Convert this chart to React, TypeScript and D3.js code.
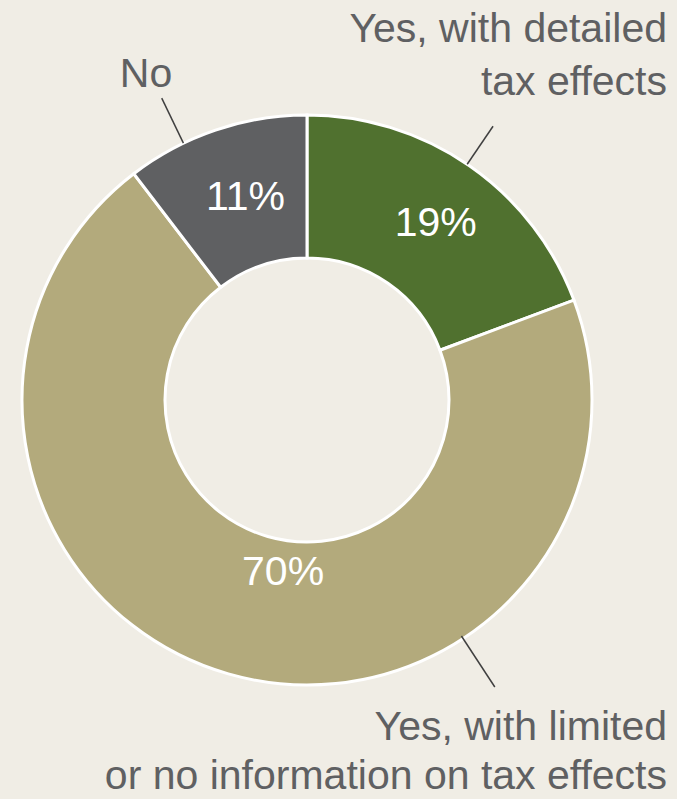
import React from "react";
import * as d3 from "d3";

const categories = ["Yes, with detailed tax effects", "Yes, with limited or no information on tax effects", "No"];
const values = [19.3, 70.3, 10.4];
const pctLabels = ["19%", "70%", "11%"];
const colors = ["#50712f", "#b3aa7c", "#5f6062"];
const outerLabelLines = [["Yes, with detailed", "tax effects"], ["Yes, with limited", "or no information on tax effects"], ["No"]];

const W = 677;
const H = 799;
const cx = 307;
const cy = 400;
const R = 285;
const r = 142;
const textColor = "#5f6062";
const font = "'Liberation Sans', Arial, Helvetica, sans-serif";

export default function App() {
  const data = categories.map((c, i) => ({ c, v: values[i], i }));
  const pie = d3.pie<any>().sort(null).value((d) => d.v).startAngle(0).endAngle(2 * Math.PI);
  const arcs = pie(data);
  const arc = d3.arc<any>().innerRadius(r).outerRadius(R);

  // label offsets (Excel-like placements)
  const pctOffset = [[7, -3], [35, -34], [7, -2]];
  // leader angles (degrees, clockwise from 12 o'clock), radii
  const leaders = [
    { a: 34.2, r0: R, r1: 331 },
    { a: 146.8, r0: R - 3, r1: 343 },
    { a: 334.3, r0: R, r1: 335 },
  ];
  const pt = (aDeg: number, rad: number) => {
    const a = (aDeg * Math.PI) / 180;
    return [cx + rad * Math.sin(a), cy - rad * Math.cos(a)];
  };

  return (
    <svg width={W} height={H} style={{ position: "absolute", left: 0, top: 0 }} fontFamily={font}>
      <rect x={0} y={0} width={W} height={H} fill="#f0ede5" />
      <g transform={`translate(${cx},${cy})`}>
        {arcs.map((a, i) => (
          <path key={i} d={arc(a) || ""} fill={colors[i]} stroke="#ffffff" strokeWidth={3} strokeLinejoin="miter" />
        ))}
        {arcs.map((a, i) => {
          const [x, y] = arc.centroid(a);
          return (
            <text key={i} x={x + pctOffset[i][0]} y={y + pctOffset[i][1]} textAnchor="middle" dominantBaseline="central" fill="#ffffff" fontSize={41}>
              {pctLabels[i]}
            </text>
          );
        })}
      </g>
      {leaders.map((l, i) => {
        const [x0, y0] = pt(l.a, l.r0);
        const [x1, y1] = pt(l.a, l.r1);
        return <line key={i} x1={x0} y1={y0} x2={x1} y2={y1} stroke="#404040" strokeWidth={1.5} />;
      })}
      <text x={667} y={42} textAnchor="end" fill={textColor} fontSize={41}>
        {outerLabelLines[0].map((s, j) => (
          <tspan key={j} x={667} dy={j === 0 ? 0 : 53}>{s}</tspan>
        ))}
      </text>
      <text x={667} y={740} textAnchor="end" fill={textColor} fontSize={41}>
        {outerLabelLines[1].map((s, j) => (
          <tspan key={j} x={667} dy={j === 0 ? 0 : 49}>{s}</tspan>
        ))}
      </text>
      <text x={146} y={87} textAnchor="middle" fill={textColor} fontSize={41}>
        {outerLabelLines[2][0]}
      </text>
    </svg>
  );
}
